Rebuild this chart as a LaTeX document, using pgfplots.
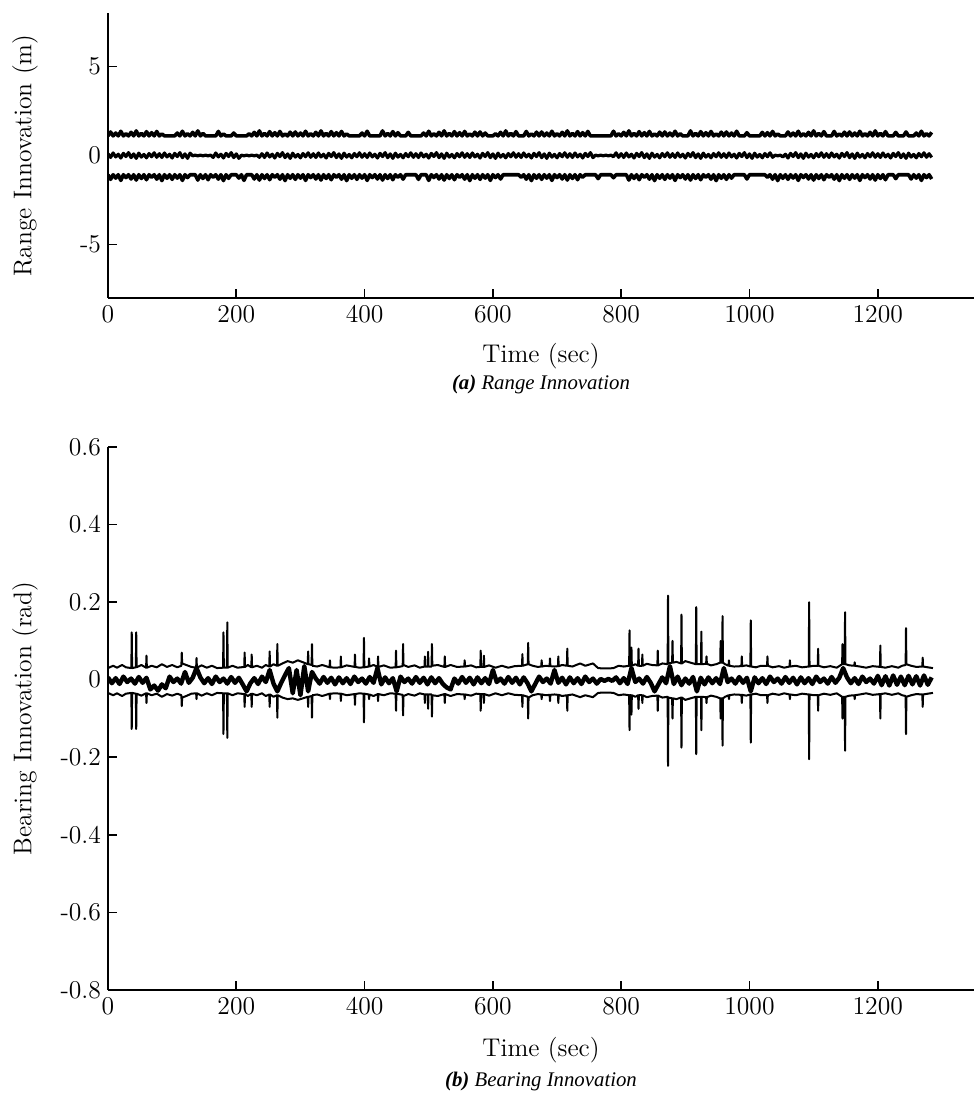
\documentclass[border=0pt]{standalone}
\usepackage{fontspec}
\newfontfamily\capfont{Liberation Serif}
\usepackage{pgfplots}
\usepackage{pgfplotstable}
\pgfplotsset{compat=1.18}

% range innovation (m): upper bound, innovation, lower bound
\pgfplotstableread{
t up mid lo
0 1.10 0.10 -1.08
4 1.32 -0.11 -1.34
8 1.10 0.14 -1.08
12 1.26 -0.08 -1.27
16 1.10 0.07 -1.08
20 1.36 -0.14 -1.40
24 1.10 0.12 -1.08
28 1.22 -0.06 -1.24
32 1.10 0.16 -1.08
36 1.30 -0.12 -1.32
40 1.10 0.09 -1.08
44 1.38 -0.16 -1.38
48 1.10 0.13 -1.08
52 1.24 -0.09 -1.29
56 1.10 0.06 -1.08
60 1.34 -0.13 -1.36
64 1.10 0.11 -1.08
68 1.28 -0.07 -1.22
72 1.10 0.15 -1.08
76 1.35 -0.10 -1.33
80 1.10 0.10 -1.08
84 1.21 -0.11 -1.41
88 1.10 0.14 -1.08
92 1.10 -0.08 -1.28
96 1.10 0.07 -1.08
100 1.10 -0.14 -1.34
104 1.10 0.12 -1.08
108 1.26 -0.06 -1.27
112 1.10 0.16 -1.08
116 1.36 -0.12 -1.40
120 1.10 0.09 -1.08
124 1.22 -0.16 -1.24
128 1.10 0.13 -1.08
132 1.30 -0.02 -1.08
136 1.10 0.02 -1.08
140 1.38 -0.02 -1.38
144 1.10 0.02 -1.08
148 1.24 -0.02 -1.29
152 1.10 0.02 -1.08
156 1.10 -0.02 -1.36
160 1.10 0.02 -1.08
164 1.10 -0.11 -1.22
168 1.10 0.14 -1.08
172 1.35 -0.08 -1.33
176 1.10 0.07 -1.08
180 1.21 -0.14 -1.41
184 1.10 0.12 -1.08
188 1.10 -0.06 -1.28
192 1.10 0.16 -1.08
196 1.26 -0.12 -1.08
200 1.10 0.09 -1.08
204 1.10 -0.16 -1.27
208 1.10 0.02 -1.08
212 1.10 -0.02 -1.40
216 1.10 0.02 -1.08
220 1.22 -0.02 -1.08
224 1.10 0.02 -1.08
228 1.30 -0.02 -1.32
232 1.10 0.02 -1.08
236 1.38 -0.10 -1.38
240 1.10 0.10 -1.08
244 1.24 -0.11 -1.29
248 1.10 0.14 -1.08
252 1.34 -0.08 -1.36
256 1.10 0.07 -1.08
260 1.28 -0.14 -1.22
264 1.10 0.12 -1.08
268 1.35 -0.06 -1.33
272 1.10 0.16 -1.08
276 1.21 -0.12 -1.41
280 1.10 0.09 -1.08
284 1.31 -0.16 -1.28
288 1.10 0.13 -1.08
292 1.32 -0.09 -1.34
296 1.10 0.06 -1.08
300 1.26 -0.13 -1.27
304 1.10 0.11 -1.08
308 1.36 -0.07 -1.40
312 1.10 0.15 -1.08
316 1.22 -0.10 -1.24
320 1.10 0.10 -1.08
324 1.30 -0.11 -1.32
328 1.10 0.14 -1.08
332 1.38 -0.08 -1.38
336 1.10 0.07 -1.08
340 1.24 -0.14 -1.29
344 1.10 0.12 -1.08
348 1.34 -0.06 -1.36
352 1.10 0.16 -1.08
356 1.28 -0.12 -1.22
360 1.10 0.09 -1.08
364 1.35 -0.16 -1.33
368 1.10 0.13 -1.08
372 1.21 -0.09 -1.41
376 1.10 0.06 -1.08
380 1.10 -0.13 -1.28
384 1.10 0.11 -1.08
388 1.10 -0.07 -1.34
392 1.10 0.15 -1.08
396 1.26 -0.10 -1.27
400 1.10 0.10 -1.08
404 1.36 -0.11 -1.40
408 1.10 0.14 -1.08
412 1.10 -0.08 -1.24
416 1.10 0.07 -1.08
420 1.10 -0.14 -1.32
424 1.10 0.12 -1.08
428 1.38 -0.06 -1.38
432 1.10 0.16 -1.08
436 1.24 -0.12 -1.29
440 1.10 0.09 -1.08
444 1.34 -0.16 -1.36
448 1.10 0.13 -1.08
452 1.28 -0.09 -1.22
456 1.10 0.06 -1.08
460 1.10 -0.13 -1.33
464 1.10 0.11 -1.08
468 1.30 -0.07 -1.08
472 1.10 0.15 -1.08
476 1.10 -0.10 -1.08
480 1.10 0.10 -1.08
484 1.10 -0.11 -1.34
488 1.10 0.14 -1.08
492 1.26 -0.08 -1.08
496 1.10 0.07 -1.08
500 1.36 -0.14 -1.40
504 1.10 0.12 -1.08
508 1.22 -0.06 -1.24
512 1.10 0.16 -1.08
516 1.30 -0.12 -1.32
520 1.10 0.09 -1.08
524 1.38 -0.16 -1.38
528 1.10 0.13 -1.08
532 1.24 -0.09 -1.29
536 1.10 0.06 -1.08
540 1.34 -0.13 -1.36
544 1.10 0.11 -1.08
548 1.28 -0.07 -1.22
552 1.10 0.15 -1.08
556 1.35 -0.10 -1.33
560 1.10 0.10 -1.08
564 1.21 -0.11 -1.41
568 1.10 0.14 -1.08
572 1.31 -0.08 -1.28
576 1.10 0.07 -1.08
580 1.32 -0.14 -1.34
584 1.10 0.12 -1.08
588 1.26 -0.06 -1.27
592 1.10 0.16 -1.08
596 1.10 -0.12 -1.40
600 1.10 0.09 -1.08
604 1.22 -0.16 -1.24
608 1.10 0.13 -1.08
612 1.30 -0.09 -1.32
616 1.10 0.06 -1.08
620 1.38 -0.13 -1.08
624 1.10 0.11 -1.08
628 1.24 -0.07 -1.08
632 1.10 0.15 -1.08
636 1.34 -0.10 -1.08
640 1.10 0.10 -1.08
644 1.10 -0.11 -1.22
648 1.10 0.14 -1.08
652 1.35 -0.08 -1.33
656 1.10 0.07 -1.08
660 1.21 -0.14 -1.41
664 1.10 0.12 -1.08
668 1.31 -0.06 -1.28
672 1.10 0.16 -1.08
676 1.32 -0.12 -1.34
680 1.10 0.09 -1.08
684 1.26 -0.16 -1.27
688 1.10 0.13 -1.08
692 1.36 -0.09 -1.40
696 1.10 0.06 -1.08
700 1.22 -0.13 -1.24
704 1.10 0.11 -1.08
708 1.30 -0.07 -1.32
712 1.10 0.15 -1.08
716 1.38 -0.10 -1.38
720 1.10 0.10 -1.08
724 1.24 -0.11 -1.29
728 1.10 0.14 -1.08
732 1.34 -0.08 -1.36
736 1.10 0.07 -1.08
740 1.28 -0.14 -1.22
744 1.10 0.12 -1.08
748 1.35 -0.06 -1.08
752 1.10 0.16 -1.08
756 1.10 -0.12 -1.08
760 1.10 0.02 -1.08
764 1.10 -0.02 -1.30
768 1.10 0.02 -1.08
772 1.10 -0.02 -1.08
776 1.10 0.02 -1.08
780 1.10 -0.02 -1.08
784 1.10 0.02 -1.08
788 1.36 -0.07 -1.25
792 1.10 0.15 -1.08
796 1.22 -0.10 -1.08
800 1.10 0.10 -1.08
804 1.30 -0.11 -1.08
808 1.10 0.14 -1.08
812 1.38 -0.08 -1.38
816 1.10 0.07 -1.08
820 1.24 -0.14 -1.29
824 1.10 0.12 -1.08
828 1.34 -0.06 -1.36
832 1.10 0.16 -1.08
836 1.28 -0.12 -1.22
840 1.10 0.09 -1.08
844 1.35 -0.16 -1.33
848 1.10 0.13 -1.08
852 1.21 -0.09 -1.41
856 1.10 0.06 -1.08
860 1.31 -0.13 -1.28
864 1.10 0.11 -1.08
868 1.32 -0.07 -1.34
872 1.10 0.15 -1.08
876 1.26 -0.10 -1.27
880 1.10 0.10 -1.08
884 1.36 -0.11 -1.40
888 1.10 0.14 -1.08
892 1.22 -0.08 -1.24
896 1.10 0.07 -1.08
900 1.10 -0.14 -1.32
904 1.10 0.12 -1.08
908 1.38 -0.06 -1.38
912 1.10 0.16 -1.08
916 1.24 -0.12 -1.29
920 1.10 0.09 -1.08
924 1.34 -0.16 -1.36
928 1.10 0.13 -1.08
932 1.28 -0.09 -1.22
936 1.10 0.06 -1.08
940 1.35 -0.13 -1.33
944 1.10 0.11 -1.08
948 1.21 -0.07 -1.41
952 1.10 0.15 -1.08
956 1.31 -0.10 -1.28
960 1.10 0.10 -1.08
964 1.32 -0.11 -1.34
968 1.10 0.14 -1.08
972 1.26 -0.08 -1.27
976 1.10 0.07 -1.08
980 1.36 -0.14 -1.08
984 1.10 0.12 -1.08
988 1.10 -0.06 -1.08
992 1.10 0.16 -1.08
996 1.28 -0.12 -1.32
1000 1.10 0.09 -1.08
1004 1.10 -0.16 -1.08
1008 1.10 0.13 -1.08
1012 1.10 -0.09 -1.08
1016 1.10 0.06 -1.08
1020 1.30 -0.13 -1.08
1024 1.10 0.11 -1.08
1028 1.28 -0.07 -1.22
1032 1.10 0.15 -1.08
1036 1.35 -0.10 -1.33
1040 1.10 0.02 -1.08
1044 1.21 -0.02 -1.41
1048 1.10 0.02 -1.08
1052 1.10 -0.08 -1.28
1056 1.10 0.07 -1.08
1060 1.32 -0.14 -1.34
1064 1.10 0.12 -1.08
1068 1.26 -0.06 -1.27
1072 1.10 0.16 -1.08
1076 1.36 -0.12 -1.40
1080 1.10 0.09 -1.08
1084 1.22 -0.16 -1.24
1088 1.10 0.13 -1.08
1092 1.30 -0.09 -1.32
1096 1.10 0.06 -1.08
1100 1.38 -0.13 -1.38
1104 1.10 0.11 -1.08
1108 1.24 -0.07 -1.29
1112 1.10 0.15 -1.08
1116 1.34 -0.10 -1.36
1120 1.10 0.10 -1.08
1124 1.10 -0.11 -1.22
1128 1.10 0.14 -1.08
1132 1.35 -0.08 -1.33
1136 1.10 0.07 -1.08
1140 1.21 -0.14 -1.41
1144 1.10 0.12 -1.08
1148 1.31 -0.06 -1.28
1152 1.10 0.16 -1.08
1156 1.32 -0.12 -1.34
1160 1.10 0.09 -1.08
1164 1.26 -0.16 -1.27
1168 1.10 0.13 -1.08
1172 1.36 -0.09 -1.40
1176 1.10 0.06 -1.08
1180 1.22 -0.13 -1.24
1184 1.10 0.11 -1.08
1188 1.30 -0.07 -1.32
1192 1.10 0.15 -1.08
1196 1.38 -0.10 -1.38
1200 1.10 0.10 -1.08
1204 1.24 -0.11 -1.29
1208 1.10 0.14 -1.08
1212 1.34 -0.08 -1.36
1216 1.10 0.07 -1.08
1220 1.10 -0.14 -1.08
1224 1.10 0.12 -1.08
1228 1.30 -0.06 -1.30
1232 1.10 0.16 -1.08
1236 1.10 -0.12 -1.08
1240 1.10 0.09 -1.08
1244 1.32 -0.16 -1.08
1248 1.10 0.13 -1.08
1252 1.10 -0.09 -1.32
1256 1.10 0.06 -1.08
1260 1.26 -0.13 -1.27
1264 1.10 0.11 -1.08
1268 1.36 -0.07 -1.40
1272 1.10 0.15 -1.08
1276 1.22 -0.10 -1.24
1280 1.10 0.10 -1.08
1284 1.30 -0.11 -1.32
}\rangetab

% bearing innovation bounds (rad)
\pgfplotstableread{
t up lo
0 0.030 -0.034
8 0.036 -0.040
14 0.031 -0.035
22 0.038 -0.042
28 0.032 -0.036
36.4 0.030 -0.034
37 0.122 -0.127
37.6 0.030 -0.034
43.4 0.032 -0.036
44 0.122 -0.127
44.6 0.032 -0.036
52 0.038 -0.041
59.4 0.031 -0.035
60 0.062 -0.060
60.6 0.031 -0.035
68 0.036 -0.040
76 0.032 -0.036
84 0.040 -0.044
92 0.033 -0.037
100 0.038 -0.041
108 0.032 -0.036
114.4 0.036 -0.040
115 0.070 -0.068
115.6 0.042 -0.046
122 0.038 -0.042
130 0.033 -0.036
137.4 0.031 -0.035
138 0.056 -0.050
138.6 0.031 -0.035
146 0.037 -0.041
154 0.031 -0.035
162 0.036 -0.040
170 0.030 -0.034
179.4 0.031 -0.035
180 0.122 -0.140
180.6 0.031 -0.035
185.4 0.031 -0.035
186 0.148 -0.150
186.6 0.031 -0.035
194 0.036 -0.040
202 0.031 -0.035
212.4 0.033 -0.037
213 0.070 -0.070
213.6 0.033 -0.037
218 0.038 -0.042
223.4 0.032 -0.036
224 0.065 -0.070
224.6 0.032 -0.036
232 0.036 -0.040
240 0.031 -0.035
246 0.038 -0.042
251.4 0.034 -0.038
252 0.073 -0.070
252.6 0.034 -0.038
258 0.040 -0.044
263.4 0.036 -0.040
264 0.092 -0.098
264.6 0.036 -0.040
272 0.042 -0.046
280 0.048 -0.050
288 0.044 -0.048
296 0.050 -0.052
304 0.045 -0.048
311.4 0.040 -0.044
312 0.073 -0.070
312.6 0.040 -0.044
317.4 0.038 -0.042
318 0.092 -0.098
318.6 0.036 -0.040
326 0.034 -0.038
334 0.038 -0.042
345.4 0.032 -0.036
346 0.050 -0.050
346.6 0.032 -0.036
354 0.031 -0.035
362.4 0.032 -0.036
363 0.060 -0.055
363.6 0.032 -0.036
372 0.037 -0.040
384.4 0.033 -0.037
385 0.065 -0.065
385.6 0.033 -0.037
392 0.031 -0.035
398.4 0.032 -0.036
399 0.108 -0.110
399.6 0.032 -0.036
406.4 0.034 -0.038
407 0.055 -0.050
407.6 0.034 -0.038
414 0.038 -0.042
420.4 0.033 -0.037
421 0.060 -0.055
421.6 0.033 -0.037
430 0.037 -0.040
440 0.031 -0.035
448.4 0.032 -0.036
449 0.075 -0.080
449.6 0.032 -0.036
459.4 0.035 -0.039
460 0.092 -0.092
460.6 0.038 -0.042
468 0.033 -0.037
478 0.037 -0.041
486 0.031 -0.035
493.4 0.034 -0.038
494 0.060 -0.060
494.6 0.034 -0.038
498.4 0.034 -0.038
499 0.072 -0.075
499.6 0.034 -0.038
504.4 0.034 -0.038
505 0.092 -0.095
505.6 0.036 -0.040
514 0.038 -0.042
524.4 0.033 -0.037
525 0.060 -0.060
525.6 0.033 -0.037
534 0.038 -0.042
544 0.033 -0.037
555.4 0.034 -0.038
556 0.050 -0.050
556.6 0.034 -0.038
566 0.037 -0.041
574 0.032 -0.036
580.4 0.033 -0.037
581 0.075 -0.080
581.6 0.033 -0.037
585.4 0.033 -0.037
586 0.062 -0.060
586.6 0.033 -0.037
594 0.037 -0.041
604 0.031 -0.035
614 0.036 -0.040
624 0.031 -0.035
634 0.035 -0.039
645.4 0.036 -0.040
646 0.066 -0.070
646.6 0.036 -0.040
654.4 0.040 -0.044
655 0.095 -0.100
655.6 0.040 -0.046
662 0.036 -0.040
670 0.033 -0.037
675.4 0.034 -0.038
676 0.050 -0.050
676.6 0.034 -0.038
682 0.036 -0.040
688.4 0.035 -0.039
689 0.055 -0.055
689.6 0.035 -0.039
696 0.034 -0.038
701.4 0.035 -0.039
702 0.060 -0.060
702.6 0.035 -0.039
708 0.038 -0.042
715.4 0.036 -0.040
716 0.080 -0.080
716.6 0.036 -0.040
724 0.034 -0.038
736 0.042 -0.045
744 0.036 -0.040
756 0.042 -0.045
764 0.030 -0.034
772 0.029 -0.033
780 0.029 -0.033
788 0.030 -0.034
796 0.036 -0.040
804 0.034 -0.038
812.4 0.036 -0.040
813 0.127 -0.130
813.6 0.036 -0.040
815.4 0.036 -0.040
816 0.083 -0.090
816.6 0.036 -0.040
822 0.040 -0.044
826.4 0.036 -0.040
827 0.080 -0.075
827.6 0.036 -0.040
832.4 0.036 -0.040
833 0.065 -0.060
833.6 0.036 -0.040
840 0.041 -0.045
848 0.038 -0.042
856.4 0.037 -0.041
857 0.075 -0.080
857.6 0.037 -0.041
864 0.042 -0.046
872.4 0.040 -0.044
873 0.217 -0.222
873.6 0.042 -0.046
879.4 0.044 -0.048
880 0.100 -0.100
880.6 0.044 -0.048
886 0.046 -0.050
893.4 0.042 -0.046
894 0.168 -0.175
894.6 0.042 -0.046
900 0.048 -0.052
908 0.044 -0.048
916.4 0.040 -0.044
917 0.187 -0.192
917.6 0.040 -0.044
924.4 0.040 -0.044
925 0.124 -0.130
925.6 0.040 -0.044
932.4 0.041 -0.045
933 0.060 -0.060
933.6 0.041 -0.045
940 0.037 -0.041
948 0.040 -0.044
954.4 0.044 -0.048
955 0.100 -0.100
955.6 0.044 -0.048
957.4 0.044 -0.048
958 0.164 -0.170
958.6 0.044 -0.048
962 0.040 -0.044
967.4 0.036 -0.040
968 0.050 -0.050
968.6 0.036 -0.040
976 0.034 -0.038
987.4 0.035 -0.039
988 0.060 -0.060
988.6 0.035 -0.039
995 0.037 -0.041
1001.4 0.034 -0.038
1002 0.153 -0.162
1002.6 0.034 -0.038
1010 0.032 -0.036
1018 0.036 -0.040
1027.4 0.036 -0.040
1028 0.060 -0.060
1028.6 0.036 -0.040
1036 0.032 -0.036
1046 0.035 -0.039
1054 0.031 -0.035
1062.4 0.034 -0.038
1063 0.050 -0.050
1063.6 0.034 -0.038
1072 0.036 -0.040
1082 0.032 -0.036
1092.4 0.034 -0.038
1093 0.200 -0.205
1093.6 0.034 -0.038
1100 0.036 -0.040
1106.4 0.036 -0.040
1107 0.080 -0.080
1107.6 0.036 -0.040
1116 0.032 -0.036
1126 0.035 -0.039
1136 0.031 -0.035
1144.4 0.040 -0.044
1145 0.092 -0.100
1145.6 0.040 -0.044
1148.4 0.040 -0.044
1149 0.174 -0.183
1149.6 0.040 -0.044
1156 0.037 -0.041
1163.4 0.036 -0.040
1164 0.045 -0.050
1164.6 0.036 -0.040
1172 0.034 -0.038
1182 0.031 -0.035
1192 0.035 -0.039
1203.4 0.033 -0.037
1204 0.088 -0.100
1204.6 0.033 -0.037
1212 0.031 -0.035
1222 0.035 -0.039
1232 0.031 -0.035
1238 0.036 -0.040
1243.4 0.038 -0.042
1244 0.133 -0.140
1244.6 0.040 -0.044
1252 0.036 -0.040
1260 0.033 -0.037
1269.4 0.034 -0.038
1270 0.057 -0.070
1270.6 0.034 -0.038
1278 0.032 -0.036
1286 0.030 -0.034
}\boundtab

% bearing innovation (rad)
\pgfplotstableread{
t v
0 0.006
6 -0.009
12 0.004
18 -0.011
24 0.008
30 -0.006
36 0.003
42 -0.010
48 0.007
54 -0.008
60 0.005
66 -0.025
72 -0.015
78 -0.028
84 -0.012
90 -0.022
96 0.008
102 -0.006
108 0.003
114 -0.010
120 0.020
126 -0.008
132 0.005
138 0.030
144 0.006
150 -0.009
156 0.004
162 -0.011
168 0.008
174 -0.006
180 0.003
186 -0.010
192 0.007
198 -0.008
204 0.005
210 -0.012
216 -0.030
222 -0.009
228 0.004
234 -0.011
240 0.008
246 -0.006
252 0.025
258 -0.010
264 -0.030
270 -0.008
276 0.012
282 0.030
288 -0.035
294 0.025
300 -0.040
306 0.035
312 -0.030
318 0.020
324 0.003
330 -0.010
336 0.007
342 -0.008
348 0.005
354 -0.012
360 0.006
366 -0.009
372 0.004
378 -0.011
384 0.008
390 -0.006
396 0.003
402 -0.010
408 0.007
414 -0.008
420 0.030
426 -0.012
432 0.006
438 -0.009
444 0.004
450 -0.030
456 0.008
462 -0.006
468 0.003
474 -0.010
480 0.007
486 -0.008
492 0.005
498 -0.012
504 0.006
510 -0.009
516 0.004
522 -0.011
528 -0.020
534 -0.025
540 0.003
546 -0.010
552 0.007
558 -0.008
564 0.005
570 -0.012
576 0.006
582 -0.009
588 0.004
594 -0.011
600 0.025
606 -0.006
612 0.003
618 -0.010
624 0.007
630 -0.008
636 0.005
642 -0.012
648 0.006
654 -0.009
660 -0.030
666 -0.011
672 0.008
678 -0.006
684 0.003
690 -0.010
696 0.025
702 -0.008
708 0.005
714 -0.012
720 0.006
726 -0.009
732 0.004
738 -0.011
744 0.008
750 -0.006
756 0.003
762 -0.010
768 0.002
774 -0.003
780 0.002
786 -0.003
792 0.006
798 -0.009
804 0.004
810 -0.011
816 0.030
822 -0.006
828 0.003
834 -0.010
840 0.007
846 -0.008
852 -0.030
858 -0.012
864 0.006
870 -0.009
876 0.035
882 -0.011
888 0.008
894 -0.014
900 0.003
906 -0.010
912 0.007
918 -0.030
924 0.005
930 -0.012
936 0.006
942 -0.009
948 0.004
954 -0.011
960 0.030
966 -0.006
972 0.003
978 -0.010
984 0.007
990 -0.008
996 0.005
1002 -0.030
1008 0.006
1014 -0.009
1020 0.004
1026 -0.011
1032 0.008
1038 -0.006
1044 0.003
1050 -0.010
1056 0.007
1062 -0.008
1068 0.005
1074 -0.012
1080 0.006
1086 -0.009
1092 0.004
1098 -0.011
1104 0.008
1110 -0.006
1116 0.003
1122 -0.010
1128 0.007
1134 -0.008
1140 0.005
1146 0.030
1152 0.006
1158 -0.009
1164 0.004
1170 -0.011
1176 0.008
1182 -0.006
1188 0.003
1194 -0.010
1200 0.010
1206 -0.014
1212 0.009
1218 -0.015
1224 0.011
1230 -0.013
1236 0.008
1242 -0.014
1248 0.010
1254 -0.012
1260 0.009
1266 -0.015
1272 0.011
1278 -0.013
1284 0.006
}\innotab

\pgfplotsset{
  innov/.style={
    scale only axis,
    width=433pt,
    xmin=0, xmax=1350,
    axis x line=bottom,
    axis y line=left,
    axis line style={-, line width=0.8pt},
    every tick/.style={black, line width=0.8pt},
    major tick length=4.5pt,
    tick align=inside,
    xtick={0,200,...,1200},
    font=\fontsize{12.8}{15}\selectfont,
    /pgf/number format/assume math mode=true,
    /pgf/number format/1000 sep={},
    clip mode=individual,
    every axis y label/.style={at={(axis description cs:-0.0958,0.5)}, rotate=90, anchor=center},
    every axis plot/.append style={line join=round},
  },
}

\begin{document}
\begin{tikzpicture}
\useasboundingbox (-54pt,-399pt) rectangle (433pt,149pt);

\begin{axis}[innov,
  height=142.5pt,
  ymin=-8, ymax=8,
  ytick={-5,0,5},
  xlabel={Time (sec)},
  ylabel={Range Innovation (m)},
  every axis x label/.style={at={(axis description cs:0.5,-0.2035)}, anchor=center},
]
\addplot[black, line width=1.8pt] table[x=t, y=up] {\rangetab};
\addplot[black, line width=1.6pt] table[x=t, y=mid] {\rangetab};
\addplot[black, line width=1.8pt] table[x=t, y=lo] {\rangetab};
\node[font=\capfont\fontsize{10.4}{12}\selectfont\itshape] at (axis description cs:0.5,-0.302) {\textbf{(a)} Range Innovation};
\end{axis}

\begin{axis}[innov,
  at={(0,-346pt)}, anchor=south west,
  height=271.5pt,
  ymin=-0.8, ymax=0.6,
  ytick={-0.8,-0.6,-0.4,-0.2,0,0.2,0.4,0.6},
  yticklabel style={/pgf/number format/fixed},
  xlabel={Time (sec)},
  ylabel={Bearing Innovation (rad)},
  every axis x label/.style={at={(axis description cs:0.5,-0.1105)}, anchor=center},
]
\addplot[black, line width=1pt] table[x=t, y=up] {\boundtab};
\addplot[black, line width=1pt] table[x=t, y=lo] {\boundtab};
\addplot[black, line width=2.2pt] table[x=t, y=v] {\innotab};
\node[font=\capfont\fontsize{10.4}{12}\selectfont\itshape] at (axis description cs:0.5,-0.1694) {\textbf{(b)} Bearing Innovation};
\end{axis}
\end{tikzpicture}
\end{document}
